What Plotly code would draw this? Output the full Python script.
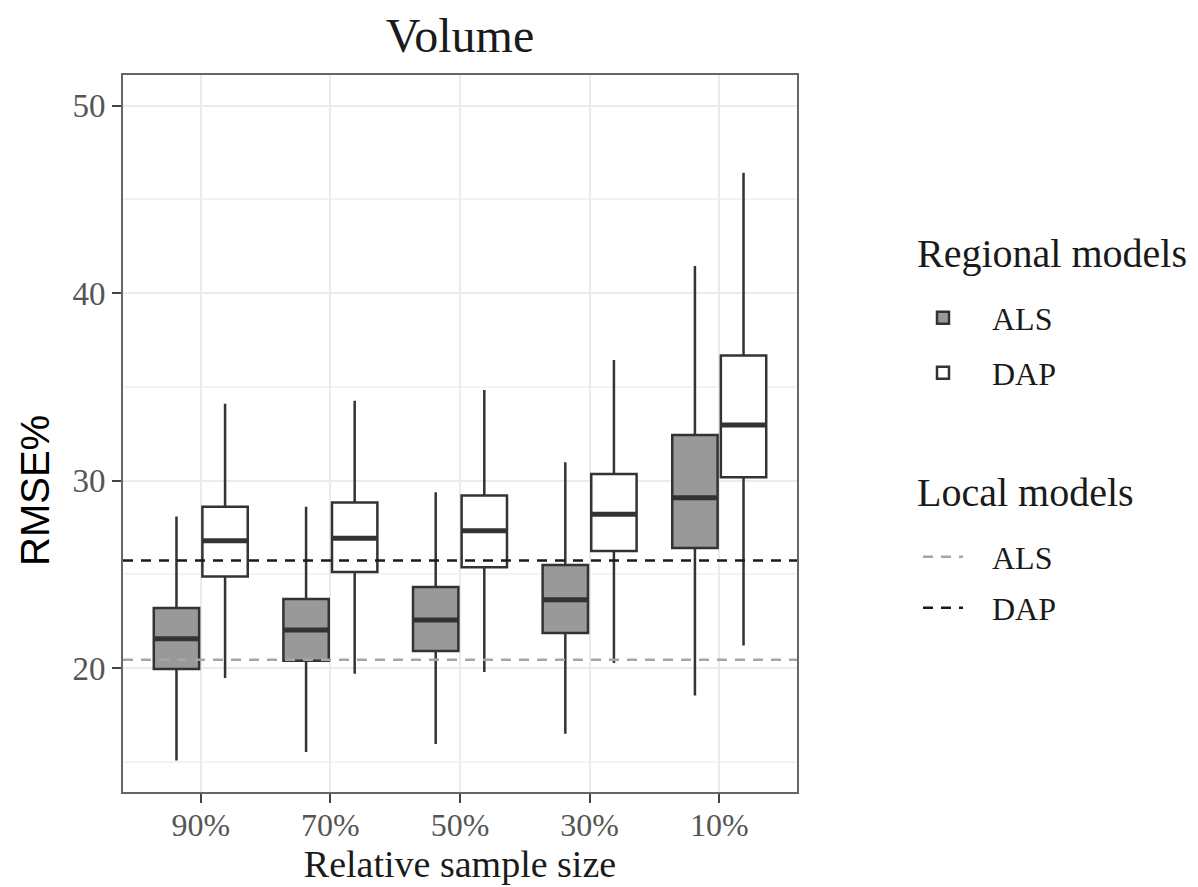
import plotly.graph_objects as go

# ---------------- data ----------------
categories = ["90%", "70%", "50%", "30%", "10%"]

als_lower = [15.07, 15.52, 15.95, 16.50, 18.54]
als_q1 = [19.95, 20.39, 20.91, 21.87, 26.40]
als_median = [21.56, 22.03, 22.56, 23.64, 29.09]
als_q3 = [23.20, 23.68, 24.32, 25.50, 32.43]
als_upper = [28.08, 28.61, 29.38, 30.98, 41.45]

dap_lower = [19.47, 19.70, 19.79, 20.27, 21.20]
dap_q1 = [24.88, 25.12, 25.38, 26.25, 30.18]
dap_median = [26.79, 26.93, 27.32, 28.21, 32.97]
dap_q3 = [28.61, 28.83, 29.20, 30.35, 36.67]
dap_upper = [34.09, 34.26, 34.83, 36.43, 46.42]

local_als = 20.44
local_dap = 25.74

# ---------------- styling ----------------
SERIF = "Liberation Serif"
SANS = "Liberation Sans"
DODGE = 0.1875
BOX_W = 0.35
X_RANGE = [-0.6, len(categories) - 1 + 0.6]
Y_RANGE = [13.39, 51.63]
EDGE = "#333333"
NB = "\u00a0"

idx = list(range(len(categories)))
x_als = [i - DODGE for i in idx]
x_dap = [i + DODGE for i in idx]

fig = go.Figure()


def add_box(name, xs, lo, q1, med, q3, hi, fill, legend):
    fig.add_trace(go.Box(
        name=NB * 3 + name,
        x=xs, q1=q1, median=med, q3=q3, lowerfence=lo, upperfence=hi,
        width=BOX_W, whiskerwidth=0, boxpoints=False,
        fillcolor=fill, line=dict(color=EDGE, width=2.5),
        legend=legend, hoverinfo="y",
    ))
    # thick median bars (ggplot style)
    mx, my = [], []
    for xc, m in zip(xs, med):
        mx += [xc - BOX_W / 2, xc + BOX_W / 2, None]
        my += [m, m, None]
    fig.add_trace(go.Scatter(x=mx, y=my, mode="lines",
                             line=dict(color=EDGE, width=5),
                             showlegend=False, hoverinfo="skip"))


add_box("ALS", x_als, als_lower, als_q1, als_median, als_q3, als_upper,
        "#999999", "legend")
add_box("DAP", x_dap, dap_lower, dap_q1, dap_median, dap_q3, dap_upper,
        "#ffffff", "legend2")

fig.add_trace(go.Scatter(
    name=NB * 3 + "ALS", x=X_RANGE, y=[local_als, local_als], mode="lines",
    line=dict(color="#a6a6a6", width=2.5, dash="10px,8px"),
    legend="legend3", hoverinfo="y",
))
fig.add_trace(go.Scatter(
    name=NB * 3 + "DAP", x=X_RANGE, y=[local_dap, local_dap], mode="lines",
    line=dict(color="#1a1a1a", width=2.5, dash="10px,8px"),
    legend="legend4", hoverinfo="y",
))

PLOT_L, PLOT_R, PLOT_T, PLOT_B = 123, 797, 75, 792
W, H = 1198, 887
pw = PLOT_R - PLOT_L
ph = PLOT_B - PLOT_T


def px_x(px):
    return (px - PLOT_L) / pw


def px_y(py):
    return (PLOT_B - py) / ph


leg_common = dict(
    x=px_x(918), xanchor="left", yanchor="middle",
    font=dict(family=SERIF, size=32, color="#1a1a1a"),
    bgcolor="rgba(0,0,0,0)", borderwidth=0, itemwidth=40,
    itemclick=False, itemdoubleclick=False,
)

group_title_font = dict(family=SERIF, size=40, color="#1a1a1a")

fig.update_layout(
    width=W, height=H,
    margin=dict(l=PLOT_L, r=W - PLOT_R, t=PLOT_T, b=H - PLOT_B,
                autoexpand=False),
    paper_bgcolor="white", plot_bgcolor="white",
    title=dict(text="Volume", x=0.5, xref="paper", xanchor="center",
               y=1 - 35 / H, yanchor="middle",
               font=dict(family=SERIF, size=48, color="#1a1a1a")),
    showlegend=True,
    legend=dict(**leg_common, y=px_y(318)),
    legend2=dict(**leg_common, y=px_y(373)),
    legend3=dict(**leg_common, y=px_y(557)),
    legend4=dict(**leg_common, y=px_y(608)),
    xaxis=dict(
        range=X_RANGE, tickmode="array", tickvals=idx, ticktext=categories,
        showgrid=True, gridcolor="#ebebeb", gridwidth=2,
        zeroline=False, showline=True, mirror=True, automargin=False,
        linecolor="#666666", linewidth=2,
        ticks="outside", ticklen=9, tickwidth=2, tickcolor="#444444",
        ticklabelstandoff=-5,
        tickfont=dict(family=SERIF, size=32, color="#555555"),
        title=dict(text="Relative sample size", standoff=8,
                   font=dict(family=SERIF, size=38, color="#1a1a1a")),
    ),
    yaxis=dict(
        range=Y_RANGE, tickmode="linear", tick0=0, dtick=10,
        showgrid=True, gridcolor="#ebebeb", gridwidth=2,
        minor=dict(tick0=0, dtick=5, showgrid=True, gridcolor="#f3f3f3",
                   gridwidth=1.5),
        zeroline=False, showline=True, mirror=True, automargin=False,
        linecolor="#666666", linewidth=2,
        ticks="outside", ticklen=9, tickwidth=2, tickcolor="#444444",
        tickfont=dict(family=SERIF, size=33, color="#555555"),
    ),
    annotations=[
        dict(text="RMSE%", textangle=-90, showarrow=False,
             xref="paper", yref="paper", x=px_x(35), y=px_y(490),
             xanchor="center", yanchor="middle",
             font=dict(family=SANS, size=40, color="#000000")),
        dict(text="Regional models", showarrow=False,
             xref="paper", yref="paper", x=px_x(915), y=px_y(253),
             xanchor="left", yanchor="middle", font=group_title_font),
        dict(text="Local models", showarrow=False,
             xref="paper", yref="paper", x=px_x(915), y=px_y(492),
             xanchor="left", yanchor="middle", font=group_title_font),
    ],
)

fig.write_html("out.html")
